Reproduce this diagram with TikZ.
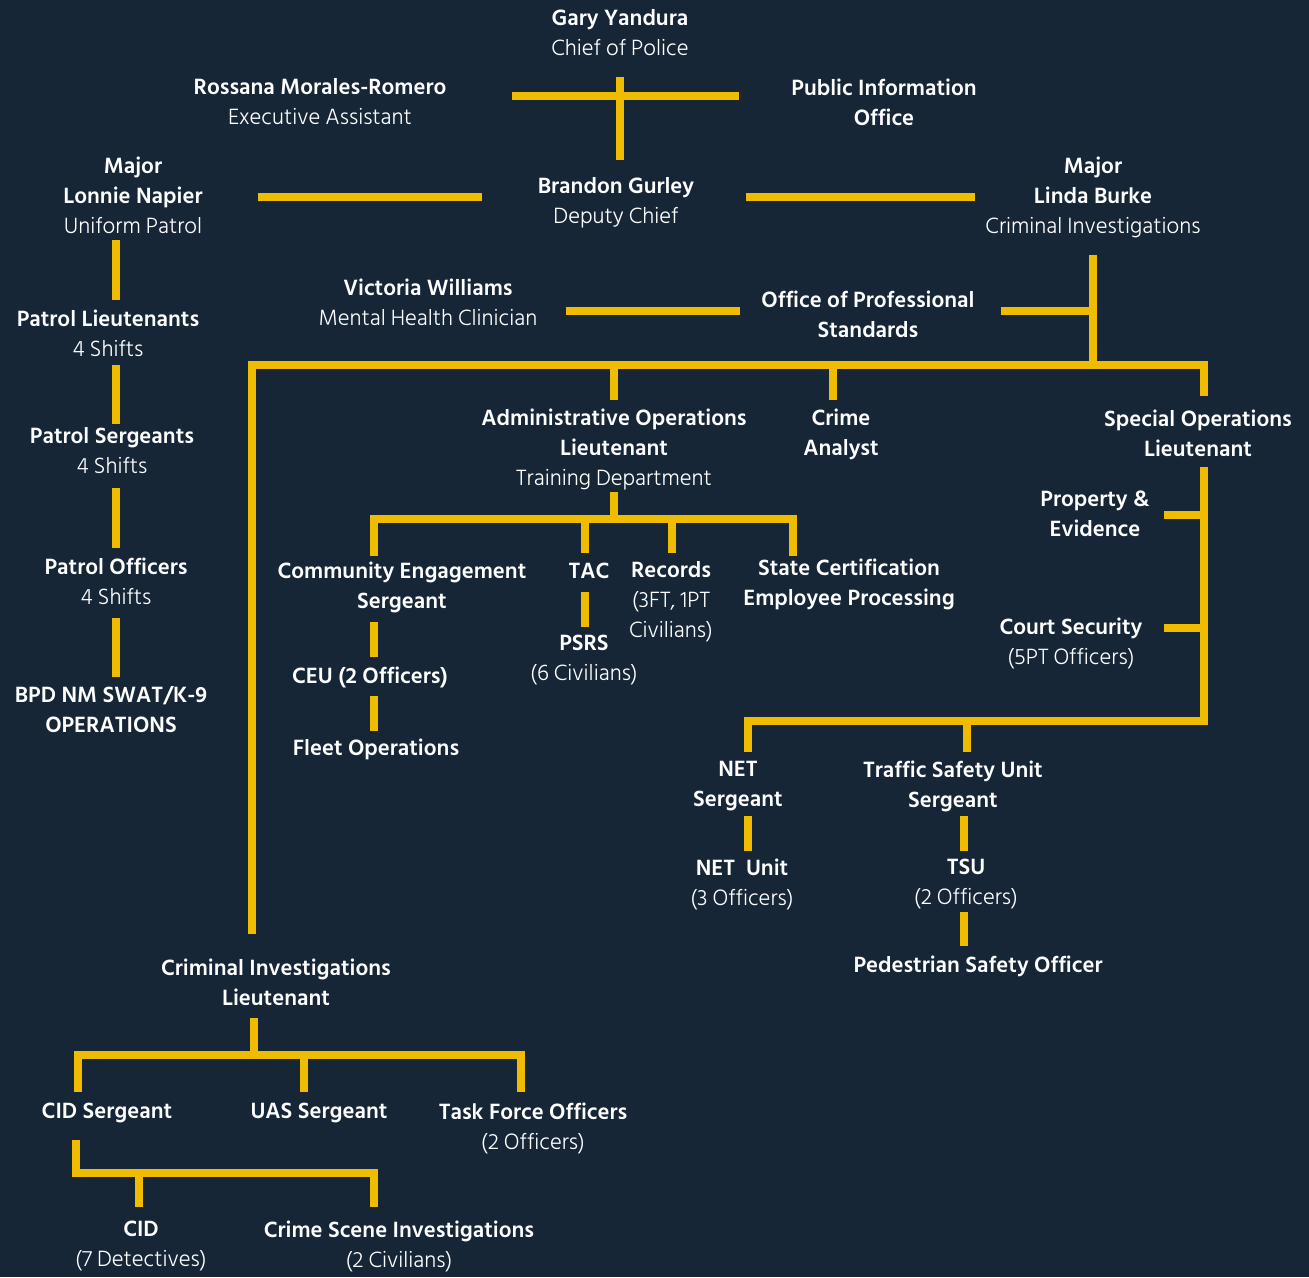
\documentclass[tikz,border=0pt]{standalone}
\usepackage{fontspec}
\setmainfont{Hind Siliguri}
\newfontfamily\lightface{Hind Siliguri Light}
\usetikzlibrary{calc}

\definecolor{navybg}{RGB}{22,38,55}
\definecolor{badgegold}{RGB}{240,188,0}

\newcommand{\subline}[1]{{\lightface #1}}

\tikzset{
  unit/.style={text=white, align=center, inner sep=0pt,
    font=\fontsize{17}{22.5}\selectfont},
  link/.style={draw=badgegold, line width=6pt},
}

\begin{document}
\begin{tikzpicture}[x=0.75pt,y=0.75pt,yscale=-1,xscale=1]
    \fill[navybg] (0,0) rectangle (1309,1277);
    \useasboundingbox (0,0) rectangle (1309,1277);

    % Text Node: command staff
    \node[unit] (chief) at (620,33) {\textbf{Gary Yandura}\\\subline{Chief of Police}};
    \node[unit] (assistant) at (320,102) {\textbf{Rossana Morales-Romero}\\\subline{Executive Assistant}};
    \node[unit] (pio) at (884,102) {\textbf{Public Information}\\\textbf{Office}};
    \node[unit] (deputy) at (616,203) {\textbf{Brandon Gurley}\\\subline{Deputy Chief}};
    \node[unit] (napier) at (133,195) {\textbf{Major}\\\textbf{Lonnie Napier}\\\subline{Uniform Patrol}};
    \node[unit] (burke) at (1093,197) {\textbf{Major}\\\textbf{Linda Burke}\\\subline{Criminal Investigations}};

    % Text Node: uniform patrol
    \node[unit] (patlt) at (108,333) {\textbf{Patrol Lieutenants}\\\subline{4 Shifts}};
    \node[unit] (patsgt) at (112,451) {\textbf{Patrol Sergeants}\\\subline{4 Shifts}};
    \node[unit] (patoff) at (116,581) {\textbf{Patrol Officers}\\\subline{4 Shifts}};
    \node[unit] (swat) at (111,710) {\textbf{BPD NM SWAT/K-9}\\\textbf{OPERATIONS}};

    % Text Node: deputy chief's staff
    \node[unit] (clinician) at (428,302) {\textbf{Victoria Williams}\\\subline{Mental Health Clinician}};
    \node[unit] (ops) at (868,314) {\textbf{Office of Professional}\\\textbf{Standards}};
    \node[unit] (adminlt) at (614,449) {\textbf{Administrative Operations}\\\textbf{Lieutenant}\\\subline{Training Department}};
    \node[unit] (analyst) at (841,434) {\textbf{Crime}\\\textbf{Analyst}};
    \node[unit] (speclt) at (1198,433) {\textbf{Special Operations}\\\textbf{Lieutenant}};

    % Text Node: administrative operations
    \node[unit] (ceu) at (402,587) {\textbf{Community Engagement}\\\textbf{Sergeant}};
    \node[unit] (ceuunit) at (370,677) {\textbf{CEU (2 Officers)}};
    \node[unit] (fleet) at (376,749) {\textbf{Fleet Operations}};
    \node[unit] (tac) at (589,571) {\textbf{TAC}};
    \node[unit] (psrs) at (584,660) {\textbf{PSRS}\\\subline{(6 Civilians)}};
    \node[unit] (records) at (671,602) {\textbf{Records}\\\subline{(3FT, 1PT}\\\subline{Civilians)}};
    \node[unit] (cert) at (849,584) {\textbf{State Certification}\\\textbf{Employee Processing}};

    % Text Node: special operations
    \node[unit] (property) at (1095,514) {\textbf{Property \&}\\\textbf{Evidence}};
    \node[unit] (court) at (1071,643) {\textbf{Court Security}\\\subline{(5PT Officers)}};
    \node[unit] (netsgt) at (738,786) {\textbf{NET}\\\textbf{Sergeant}};
    \node[unit] (tsusgt) at (953,786) {\textbf{Traffic Safety Unit}\\\textbf{Sergeant}};
    \node[unit] (netunit) at (742,884) {\textbf{NET\ \ Unit}\\\subline{(3 Officers)}};
    \node[unit] (tsu) at (966,884) {\textbf{TSU}\\\subline{(2 Officers)}};
    \node[unit] (ped) at (978,966) {\textbf{Pedestrian Safety Officer}};

    % Text Node: criminal investigations
    \node[unit] (cilt) at (276,982) {\textbf{Criminal Investigations}\\\textbf{Lieutenant}};
    \node[unit] (cidsgt) at (107,1113) {\textbf{CID Sergeant}};
    \node[unit] (uas) at (319,1113) {\textbf{UAS Sergeant}};
    \node[unit] (tfo) at (533,1128) {\textbf{Task Force Officers}\\\subline{(2 Officers)}};
    \node[unit] (cid) at (141,1246) {\textbf{CID}\\\subline{(7 Detectives)}};
    \node[unit] (csi) at (399,1246) {\textbf{Crime Scene Investigations}\\\subline{(2 Civilians)}};

    % bus junctions
    \coordinate (mainbus) at (252,365);
    \coordinate (adminbus) at (614,519);
    \coordinate (specbus) at (1204,721);
    \coordinate (cibus) at (254,1055);
    \coordinate (cidbus) at (76,1173);

    % Connectors: command staff
    \draw[link] (chief |- 0,77) -- (chief |- 0,160);
    \draw[link, shorten <=49pt, shorten >=39pt] (assistant.east |- 0,96) -- (pio.west |- 0,96);
    \draw[link, shorten <=41pt, shorten >=42pt] (napier.east |- 0,197) -- (deputy.west |- 0,197);
    \draw[link, shorten <=39pt, shorten >=8pt] (deputy.east |- 0,197) -- (burke.west |- 0,197);

    % Connectors: uniform patrol
    \draw[link] (patoff |- 0,240) -- (patoff |- 0,300);
    \draw[link] (patoff |- 0,365) -- (patoff |- 0,424);
    \draw[link] (patoff |- 0,488) -- (patoff |- 0,548);
    \draw[link] (patoff |- 0,618) -- (patoff |- 0,677);

    % Connectors: deputy chief's staff
    \draw[link, shorten <=21pt, shorten >=16pt] (clinician.east |- 0,311) -- (ops.west |- 0,311);
    \draw[link] ($(ops.east |- 0,311)+(26,0)$) -- (burke |- 0,311);
    \draw[link] (burke |- 0,255) -- (burke |- mainbus);
    \draw[link] (mainbus |- cilt.north) ++(0,-24) -- (mainbus) -| (1204,396);
    \draw[link] (adminlt |- mainbus) -- (adminlt |- 0,400);
    \draw[link] ($(analyst |- mainbus)+(-8,0)$) -- ++(0,35);

    % Connectors: administrative operations
    \draw[link] (adminlt |- 0,492) -- (adminbus);
    \draw[link] (374,556) |- (adminbus) -| (793,556);
    \draw[link] (585,519) -- (585,553);
    \draw[link] (672,519) -- (672,553);
    \draw[link] (374,622) -- (374,657);
    \draw[link] (374,696) -- (374,731);
    \draw[link] (585,592) -- (585,627);

    % Connectors: special operations
    \draw[link] (specbus |- 0,467) -- (specbus) -| (748,752);
    \draw[link] (1164,515) -- (specbus |- 0,515);
    \draw[link] (1164,628) -- (specbus |- 0,628);
    \draw[link] (967,721) -- (967,752);
    \draw[link] (748,816) -- (748,851);
    \draw[link] (964,816) -- (964,851);
    \draw[link] (964,912) -- (964,946);

    % Connectors: criminal investigations
    \draw[link] (cibus |- 0,1018) -- (cibus);
    \draw[link] (cidsgt.west |- 0,1092) ++(37,0) |- (cibus) -| (521,1092);
    \draw[link] (304,1055) -- (304,1092);
    \draw[link] (cidbus |- 0,1140) -- (cidbus) -| (374,1207);
    \draw[link] (139,1173) -- (139,1207);
\end{tikzpicture}
\end{document}
